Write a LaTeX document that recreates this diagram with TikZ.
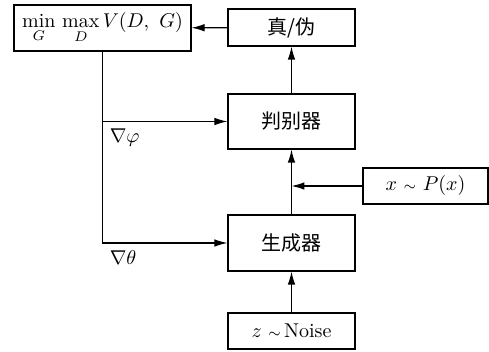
\documentclass[tikz,border=0pt]{standalone}
\usepackage{fontspec}
\newfontfamily\cjk{Noto Sans CJK SC}
\usetikzlibrary{arrows.meta, calc}

\tikzset{
  blk/.style={draw, semithick, inner sep=0pt, minimum width=63.5pt},
  flow/.style={-{Latex[length=6.5pt,width=3.8pt]}, semithick},
}

\begin{document}
\begin{tikzpicture}[x=0.5pt, y=-0.5pt, font=\normalsize]
\useasboundingbox (0,0) rectangle (489,352);
\node[blk, minimum width=88.5pt, minimum height=23pt] (loss) at (102.5,28) {$\min\limits_G\,\max\limits_D V(D,\ G)$};
\node[blk, minimum height=18.5pt] (judge) at (291.5,27.5) {\cjk 真/伪};
\node[blk, minimum height=27.5pt] (disc) at (291.5,121.5) {\cjk 判别器};
\node[blk, minimum width=62.5pt, minimum height=18pt] (real) at (425.5,186) {$x\ {\scriptstyle\sim}\ P(x)$};
\node[blk, minimum height=28pt] (gen) at (291.5,243) {\cjk 生成器};
\node[blk, minimum height=18pt] (noise) at (291.5,331) {$z\ {\scriptstyle\sim}\,\mathrm{Noise}$};
% data flow
\draw[flow] (noise) -- (gen);
\draw[flow] (gen) -- (disc);
\draw[flow] (disc) -- (judge);
\draw[flow] (judge) -- (loss);
\coordinate (join) at (real.west -| gen.north);
\draw[flow] (real) -- (join);
% gradients
\draw[flow] (loss.south) -- (loss.south |- gen.west) node[below right] {$\nabla\theta$} -- (gen.west);
\draw[flow] (loss.south |- disc.west) node[below right] {$\nabla\varphi$} -- (disc.west);
\end{tikzpicture}
\end{document}
